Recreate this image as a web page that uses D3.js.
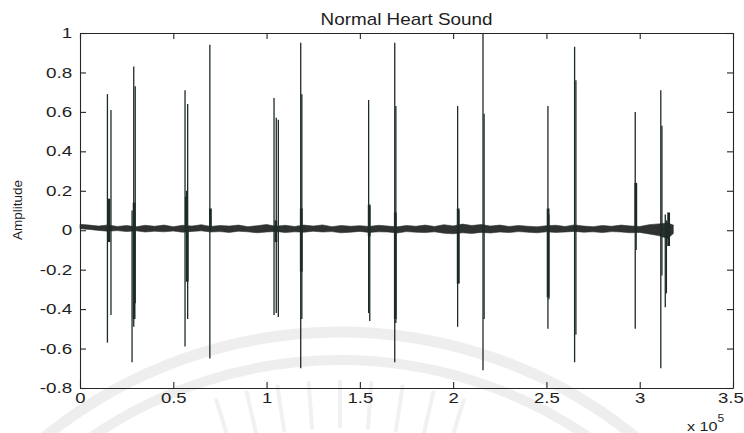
<!DOCTYPE html>
<html>
<head>
<meta charset="utf-8">
<script src="https://cdn.jsdelivr.net/npm/d3@7"></script>
<style>
  html, body { margin: 0; padding: 0; background: #fff; }
  svg { display: block; }
  text { font-family: "Liberation Sans", Arial, Helvetica, sans-serif; fill: #1e1e1e; }
</style>
</head>
<body>
<svg id="chart" width="744" height="433"></svg>
<script>
// ---- Axis ticks -------------------------------------------------------
const xTickValues = [0, 50000, 100000, 150000, 200000, 250000, 300000, 350000];
const xTickLabels = ["0", "0.5", "1", "1.5", "2", "2.5", "3", "3.5"];
const yTickValues = [-0.8, -0.6, -0.4, -0.2, 0, 0.2, 0.4, 0.6, 0.8, 1];
const yTickLabels = ["-0.8", "-0.6", "-0.4", "-0.2", "0", "0.2", "0.4", "0.6", "0.8", "1"];

// ---- Background noise envelope (sample index, upper, lower amplitude) --
const bandX = [0, 5000, 10000, 15000, 20000, 25000, 30000, 35000, 40000, 45000,
  50000, 55000, 60000, 65000, 70000, 75000, 80000, 85000, 90000, 95000,
  100000, 105000, 110000, 115000, 120000, 125000, 130000, 135000, 140000, 145000,
  150000, 155000, 160000, 165000, 170000, 175000, 180000, 185000, 190000, 195000,
  200000, 205000, 210000, 215000, 220000, 225000, 230000, 235000, 240000, 245000,
  250000, 255000, 260000, 265000, 270000, 275000, 280000, 285000, 290000, 295000,
  300000, 305000, 310000, 315000, 318000];
const bandHi = [0.030, 0.026, 0.021, 0.027, 0.019, 0.024, 0.017, 0.025, 0.020, 0.026,
  0.018, 0.025, 0.021, 0.028, 0.019, 0.024, 0.021, 0.026, 0.018, 0.023,
  0.029, 0.020, 0.025, 0.019, 0.026, 0.021, 0.027, 0.018, 0.024, 0.020,
  0.023, 0.019, 0.025, 0.021, 0.017, 0.024, 0.020, 0.026, 0.019, 0.028,
  0.022, 0.031, 0.024, 0.029, 0.021, 0.026, 0.019, 0.024, 0.020, 0.017,
  0.023, 0.025, 0.019, 0.027, 0.021, 0.018, 0.024, 0.020, 0.026, 0.022,
  0.019, 0.028, 0.032, 0.036, 0.026];
const bandLo = [0.008, 0.004, -0.001, -0.005, -0.002, -0.007, -0.003, -0.009, -0.005, -0.008,
  -0.004, -0.010, -0.006, -0.003, -0.009, -0.007, -0.011, -0.005, -0.008, -0.013,
  -0.009, -0.006, -0.012, -0.008, -0.010, -0.005, -0.009, -0.007, -0.013, -0.010,
  -0.006, -0.011, -0.008, -0.009, -0.014, -0.007, -0.010, -0.012, -0.008, -0.015,
  -0.018, -0.013, -0.016, -0.011, -0.014, -0.009, -0.012, -0.007, -0.010, -0.013,
  -0.008, -0.011, -0.009, -0.006, -0.010, -0.008, -0.012, -0.007, -0.009, -0.013,
  -0.011, -0.019, -0.027, -0.042, -0.017];

// ---- Heart-sound peaks (sample index, max, min) -----------------------
const spikeX  = [14700, 16600, 27900, 28800, 29600, 56300, 57100, 57700, 69600,
  104000, 105200, 106300, 118300, 118900, 154700, 155300, 168700, 169300,
  202400, 203000, 216000, 216600, 250800, 251300, 265100, 265800,
  297600, 298100, 311300, 311900, 313700, 314300];
const spikeHi = [0.69, 0.61, 0.10, 0.83, 0.73, 0.71, 0.20, 0.64, 0.94,
  0.67, 0.57, 0.56, 0.95, 0.69, 0.66, 0.12, 0.95, 0.63,
  0.63, 0.10, 1.00, 0.59, 0.63, 0.08, 0.93, 0.76,
  0.60, 0.24, 0.71, 0.53, 0.08, 0.05];
const spikeLo = [-0.57, -0.43, -0.67, -0.49, -0.37, -0.59, -0.26, -0.45, -0.65,
  -0.43, -0.42, -0.44, -0.70, -0.45, -0.42, -0.46, -0.67, -0.47,
  -0.49, -0.27, -0.71, -0.45, -0.50, -0.35, -0.67, -0.53,
  -0.50, -0.10, -0.70, -0.23, -0.39, -0.32];

// ---- Dense bursts around each beat (sample index, max, min) -----------
const burstX  = [15500, 29000, 57000, 57500, 69900, 105000, 118600, 155000, 169000, 202700, 250900, 297900, 315500];
const burstHi = [0.16, 0.14, 0.17, 0.02, 0.11, 0.05, 0.11, 0.13, 0.09, 0.11, 0.11, 0.24, 0.09];
const burstLo = [-0.06, -0.45, 0.00, -0.26, 0.00, -0.06, -0.21, -0.03, -0.45, -0.27, -0.34, 0.00, -0.08];

// ---- Layout -----------------------------------------------------------
const W = 744, H = 433;
const plot = { left: 80, right: 733, top: 33, bottom: 388 };
const axisColor = "#262626";
const traceColor = "#1d2b28";

const svg = d3.select("#chart");

const x = d3.scaleLinear().domain([0, 350000]).range([plot.left, plot.right]);
const y = d3.scaleLinear().domain([-0.8, 1]).range([plot.bottom, plot.top]);

// Faint page watermark behind the figure
const wm = svg.append("g").attr("fill", "none");
const wmCx = 340, wmCy = 800;
[[468, 11], [440, 10]].forEach(([r, w]) => {
  const p = d3.path();
  p.arc(wmCx, wmCy, r, Math.PI * 1.1, Math.PI * 1.9);
  wm.append("path").attr("d", p.toString())
    .attr("stroke", "#eeeeee").attr("stroke-width", w);
});
d3.range(-4, 5).forEach(i => {
  const a = -Math.PI / 2 + i * 0.075;
  wm.append("line")
    .attr("x1", wmCx + Math.cos(a) * 372).attr("y1", wmCy + Math.sin(a) * 372)
    .attr("x2", wmCx + Math.cos(a) * 420).attr("y2", wmCy + Math.sin(a) * 420)
    .attr("stroke", "#f1f1f1").attr("stroke-width", 4);
});

// ---- Signal -----------------------------------------------------------
const band = bandX.map((d, i) => ({ x: d, hi: bandHi[i], lo: bandLo[i] }));
const area = d3.area().x(d => x(d.x)).y0(d => y(d.lo)).y1(d => y(d.hi));
svg.append("path").datum(band)
  .attr("d", area)
  .attr("fill", "#2e3231")
  .attr("stroke", "#2e3231")
  .attr("stroke-width", 0.6)
  .attr("stroke-linejoin", "round");

const spikes = spikeX.map((d, i) => ({ x: d, hi: spikeHi[i], lo: spikeLo[i] }));
svg.append("g").selectAll("line").data(spikes).join("line")
  .attr("x1", d => x(d.x)).attr("x2", d => x(d.x))
  .attr("y1", d => y(d.hi)).attr("y2", d => y(d.lo))
  .attr("stroke", traceColor).attr("stroke-width", 1.3);

const bursts = burstX.map((d, i) => ({ x: d, hi: burstHi[i], lo: burstLo[i] }));
svg.append("g").selectAll("line").data(bursts).join("line")
  .attr("x1", d => x(d.x)).attr("x2", d => x(d.x))
  .attr("y1", d => y(d.hi)).attr("y2", d => y(d.lo))
  .attr("stroke", traceColor).attr("stroke-width", 2.8);

// ---- Axes (box with inward ticks) ------------------------------------
const tickLen = 6;
const styleAxis = g => {
  g.select(".domain").attr("stroke", axisColor).attr("stroke-width", 1.1);
  g.selectAll(".tick line").attr("stroke", axisColor).attr("stroke-width", 1.1);
};

const gx = svg.append("g")
  .attr("transform", `translate(0,${plot.bottom})`)
  .call(d3.axisBottom(x).tickValues(xTickValues)
    .tickFormat((d, i) => xTickLabels[i])
    .tickSizeInner(-tickLen).tickSizeOuter(0).tickPadding(5))
  .call(styleAxis);
gx.selectAll(".tick text")
  .attr("font-size", 14.5).attr("fill", "#1e1e1e")
  .attr("font-family", null)
  .attr("transform", "scale(1.28,1)");
// keep the rightmost label inside the page
gx.selectAll(".tick text").filter((d, i) => i === xTickValues.length - 1)
  .attr("text-anchor", "end").attr("x", 8);

const gy = svg.append("g")
  .attr("transform", `translate(${plot.left},0)`)
  .call(d3.axisLeft(y).tickValues(yTickValues)
    .tickFormat((d, i) => yTickLabels[i])
    .tickSizeInner(-tickLen).tickSizeOuter(0).tickPadding(6))
  .call(styleAxis);
gy.selectAll(".tick text")
  .attr("font-size", 14.5).attr("fill", "#1e1e1e")
  .attr("font-family", null)
  .attr("transform", "scale(1.3,1)");

svg.append("g")
  .attr("transform", `translate(0,${plot.top})`)
  .call(d3.axisTop(x).tickValues(xTickValues).tickFormat("")
    .tickSizeInner(-tickLen).tickSizeOuter(0))
  .call(styleAxis);

svg.append("g")
  .attr("transform", `translate(${plot.right},0)`)
  .call(d3.axisRight(y).tickValues(yTickValues).tickFormat("")
    .tickSizeInner(-tickLen).tickSizeOuter(0))
  .call(styleAxis);

// ---- Labels -----------------------------------------------------------
svg.append("text")
  .attr("transform", `translate(${(plot.left + plot.right) / 2},25) scale(1.18,1)`)
  .attr("text-anchor", "middle")
  .attr("font-size", 16)
  .text("Normal Heart Sound");

svg.append("text")
  .attr("transform", "translate(22,210) rotate(-90)")
  .attr("text-anchor", "middle")
  .attr("font-size", 13.5)
  .text("Amplitude");

const expo = svg.append("text")
  .attr("transform", "translate(687,431) scale(1.2,1)")
  .attr("font-size", 13.5);
expo.append("tspan").text("x 10");
expo.append("tspan").attr("dy", -9).attr("font-size", 10).text("5");
</script>
</body>
</html>
